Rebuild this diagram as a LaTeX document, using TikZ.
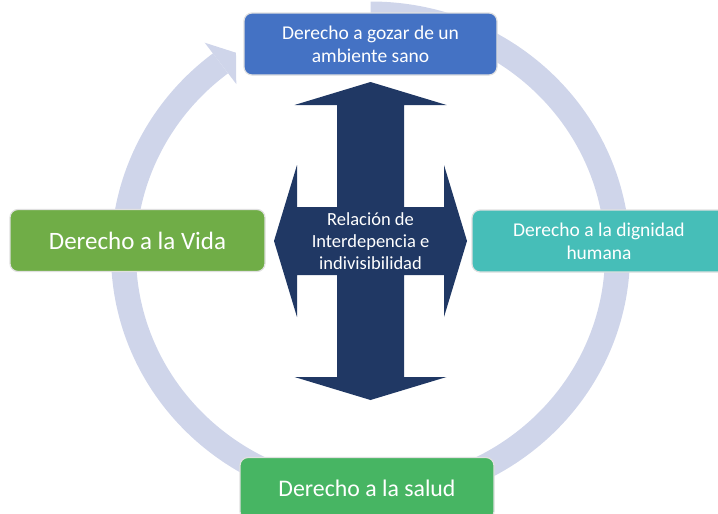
\documentclass[tikz,border=0pt]{standalone}
\usepackage{fontspec}
\setmainfont{Carlito}
\definecolor{topblue}{HTML}{4472C4}
\definecolor{lifegreen}{HTML}{70AD47}
\definecolor{teal2}{HTML}{46BEB8}
\definecolor{healthgreen}{HTML}{47B563}
\definecolor{navy}{HTML}{203864}
\definecolor{cyclecol}{HTML}{CFD5EA}
\begin{document}
\begin{tikzpicture}[x=1pt,y=1pt,
  box/.style={rectangle, rounded corners=8pt, draw=white!88!black, line width=1.2pt,
    text=white, align=center, inner sep=0pt, minimum height=62pt},
  smalltxt/.style={font=\fontsize{19.5}{23.2}\selectfont}]
\useasboundingbox (0,-514) rectangle (718,0);
\coordinate (C) at (370.5,-254);
% cycle arrow
\draw[cyclecol, line width=25pt] ([shift={(C)}]90:247 and 240) arc[start angle=90, end angle=-232.6, x radius=247, y radius=240];
\fill[cyclecol] ([shift={(C)}]127.4:273 and 266) -- ([shift={(C)}]123:247 and 240) -- ([shift={(C)}]127.4:221 and 214) -- cycle;
% boxes
\node[box, fill=topblue, minimum width=253pt, smalltxt] (top) at (370.5,-44) {Derecho a gozar de un\\ambiente sano};
\node[box, fill=lifegreen, minimum width=255pt, font=\fontsize{25}{30}\selectfont] (left) at (137.5,-240.5) {Derecho a la Vida};
\node[box, fill=teal2, minimum width=254pt, smalltxt] (right) at (599,-241) {Derecho a la dignidad\\humana};
\node[box, fill=healthgreen, minimum width=254pt, font=\fontsize{23.8}{28}\selectfont] (bottom) at (367,-488.5) {Derecho a la salud};
% cross arrow
\fill[navy] (370.5,-82) -- (446.5,-105) -- (404,-105) -- (404,-207) -- (444,-207) -- (444,-165)
  -- (467,-241) -- (444,-317) -- (444,-275) -- (404,-275) -- (404,-377) -- (446.5,-377)
  -- (370.5,-400) -- (294.5,-377) -- (337,-377) -- (337,-275) -- (297,-275) -- (297,-317)
  -- (274,-241) -- (297,-165) -- (297,-207) -- (337,-207) -- (337,-105) -- (294.5,-105) -- cycle;
\node[text=white, align=center, font=\fontsize{18.5}{22}\selectfont] (rel) at (370.5,-241) {Relación de\\Interdepencia e\\indivisibilidad};
\end{tikzpicture}
\end{document}
